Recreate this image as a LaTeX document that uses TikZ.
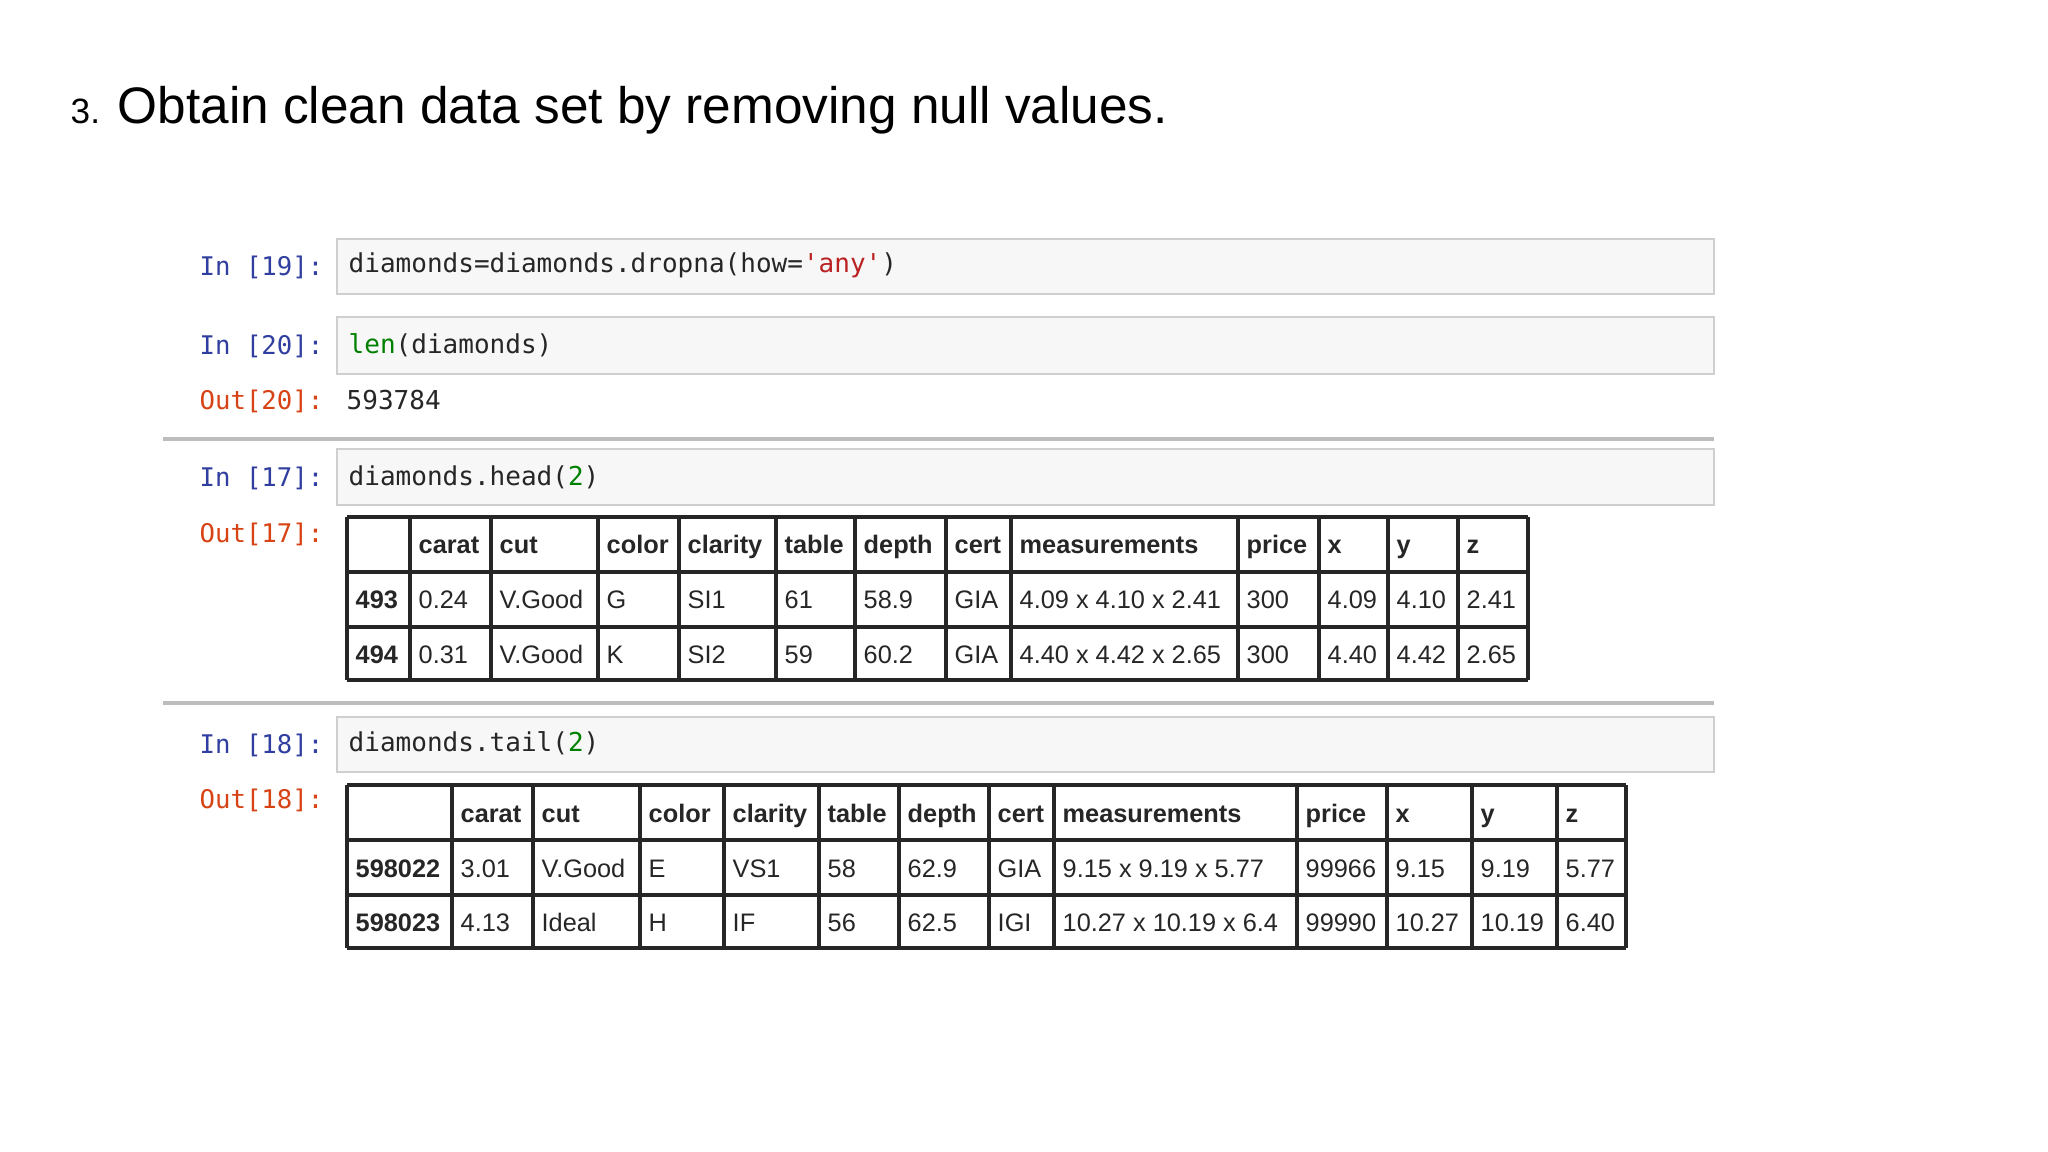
\documentclass[tikz,border=0pt]{standalone}
\usepackage{fontspec}
\setmainfont{Liberation Sans}
\setmonofont{DejaVu Sans Mono}
\definecolor{inblue}{HTML}{303F9F}
\definecolor{outred}{HTML}{D84315}
\definecolor{kwgreen}{HTML}{008000}
\definecolor{strred}{HTML}{BA2121}
\definecolor{cellbg}{HTML}{F7F7F7}
\definecolor{cellbd}{HTML}{CFCFCF}
\definecolor{sepgray}{HTML}{BDBDBD}
\tikzset{
 x=0.01cm,y=-0.01cm,
 codebox/.style={fill=cellbg,draw=cellbd,line width=0.6pt},
 prompt/.style={anchor=east,font=\ttfamily\fontsize{7.3}{8}\selectfont,inner sep=0pt},
 code/.style={anchor=west,font=\ttfamily\fontsize{7.4}{8}\selectfont,inner sep=0pt,text=black!85},
 td/.style={anchor=base west,font=\fontsize{7.2}{8}\selectfont,inner sep=0pt,text=black!85},
 th/.style={td,font=\bfseries\fontsize{7.2}{8}\selectfont},
 grid/.style={line width=1.1pt,draw=black!85},
 sep/.style={draw=sepgray,line width=1pt}
}
\begin{document}
\begin{tikzpicture}
\useasboundingbox (0,0) rectangle (2048,1152);
\fill[white] (0,0) rectangle (2048,1152);
% title
\node[anchor=base west,inner sep=0pt,font=\fontsize{10}{12}\selectfont] (num) at (70,124) {3.};
\node[anchor=base west,inner sep=0pt,font=\fontsize{14.6}{16}\selectfont] (title) at (117,124) {Obtain clean data set by removing null values.};
% cell 19
\draw[codebox] (337,239) rectangle (1714,294);
\node[prompt,text=inblue] (p19) at (324,267) {In [19]:};
\node[code] (c19) at (348,265) {diamonds=diamonds.dropna(how=\textcolor{strred}{'any'})};
% cell 20
\draw[codebox] (337,317) rectangle (1714,374);
\node[prompt,text=inblue] (p20) at (324,346) {In [20]:};
\node[code] (c20) at (348,345) {\textcolor{kwgreen}{len}(diamonds)};
\node[prompt,text=outred] (o20) at (324,401) {Out[20]:};
\node[code] (v20) at (346,400) {593784};
\draw[sep] (163,439) -- (1714,439);
% cell 17
\draw[codebox] (337,449) rectangle (1714,505);
\node[prompt,text=inblue] (p17) at (324,478) {In [17]:};
\node[code] (c17) at (348,477) {diamonds.head(\textcolor{kwgreen}{2})};
\node[prompt,text=outred] (o17) at (324,534) {Out[17]:};
% table 1
\foreach \x in {347,410,491,598,679,776,855,946,1011,1238,1319,1388,1458,1528} \draw[grid] (\x,517) -- (\x,680);
\foreach \y in {517,572,627,680} \draw[grid] (347,\y) -- (1528,\y);
\foreach \x/\t [count=\i] in {410/carat,491/cut,598/color,679/clarity,776/table,855/depth,946/cert,1011/measurements,1238/price,1319/x,1388/y,1458/z}
  \node[th] (ha\i) at (\x+8,554) {\t};
\foreach \x/\t [count=\i] in {410/0.24,491/V.Good,598/G,679/SI1,776/61,855/58.9,946/GIA,1011/4.09 x 4.10 x 2.41,1238/300,1319/4.09,1388/4.10,1458/2.41}
  \node[td] (ra\i) at (\x+8,609) {\t};
\foreach \x/\t [count=\i] in {410/0.31,491/V.Good,598/K,679/SI2,776/59,855/60.2,946/GIA,1011/4.40 x 4.42 x 2.65,1238/300,1319/4.40,1388/4.42,1458/2.65}
  \node[td] (rb\i) at (\x+8,663) {\t};
\node[th] (ia1) at (355,609) {493};
\node[th] (ib1) at (355,663) {494};
\draw[sep] (163,703) -- (1714,703);
% cell 18
\draw[codebox] (337,717) rectangle (1714,772);
\node[prompt,text=inblue] (p18) at (324,745) {In [18]:};
\node[code] (c18) at (348,743) {diamonds.tail(\textcolor{kwgreen}{2})};
\node[prompt,text=outred] (o18) at (324,800) {Out[18]:};
% table 2
\foreach \x in {347,452,533,640,724,819,899,989,1054,1297,1387,1472,1557,1626} \draw[grid] (\x,785) -- (\x,948);
\foreach \y in {785,840,895,948} \draw[grid] (347,\y) -- (1626,\y);
\foreach \x/\t [count=\i] in {452/carat,533/cut,640/color,724/clarity,819/table,899/depth,989/cert,1054/measurements,1297/price,1387/x,1472/y,1557/z}
  \node[th] (hb\i) at (\x+8,822) {\t};
\foreach \x/\t [count=\i] in {452/3.01,533/V.Good,640/E,724/VS1,819/58,899/62.9,989/GIA,1054/9.15 x 9.19 x 5.77,1297/99966,1387/9.15,1472/9.19,1557/5.77}
  \node[td] (sa\i) at (\x+8,877) {\t};
\foreach \x/\t [count=\i] in {452/4.13,533/Ideal,640/H,724/IF,819/56,899/62.5,989/IGI,1054/10.27 x 10.19 x 6.4,1297/99990,1387/10.27,1472/10.19,1557/6.40}
  \node[td] (sb\i) at (\x+8,931) {\t};
\node[th] (ia) at (355,877) {598022};
\node[th] (ib) at (355,931) {598023};
\end{tikzpicture}
\end{document}
